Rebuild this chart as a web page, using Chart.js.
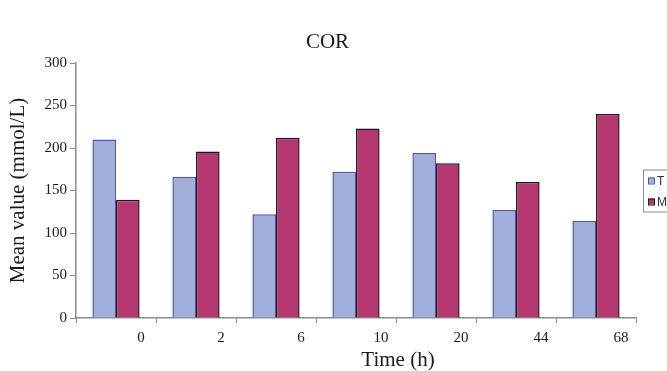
<!DOCTYPE html>
<html>
<head>
<meta charset="utf-8">
<script src="https://cdn.jsdelivr.net/npm/chart.js@4/dist/chart.umd.min.js"></script>
<style>
  html, body { margin: 0; padding: 0; background: #ffffff; overflow: hidden; }
  #wrap { width: 667px; height: 371px; position: relative; }
  #cor { display: block; }
</style>
</head>
<body>
<div id="wrap"><canvas id="cor" width="667" height="371"></canvas></div>
<script>
// Sampling times (h)
const timePoints = ['0', '2', '6', '10', '20', '44', '68'];
// Mean COR values (mmol/L) per group
const groupT = [210, 166, 122, 172, 194, 127, 114];
const groupM = [139, 196, 212, 223, 182, 160, 240];
const yTicks = [0, 50, 100, 150, 200, 250, 300];

const SERIF = '"Liberation Serif", "Times New Roman", serif';

// Titles and the boxed legend at the right edge
const decorations = {
  id: 'decorations',
  afterDraw(chart) {
    const { ctx, chartArea } = chart;
    ctx.save();
    ctx.fillStyle = '#1a1a1a';
    ctx.textAlign = 'center';
    ctx.textBaseline = 'middle';
    ctx.font = '21px ' + SERIF;
    ctx.fillText('COR', chart.width / 2 - 6, 42);
    ctx.fillText('Time (h)', (chartArea.left + chartArea.right) / 2 + 42, 360);

    // legend
    const bx = chartArea.right + 7;
    const by = (chartArea.top + chartArea.bottom) / 2 - 21;
    ctx.strokeStyle = '#8a8a8a';
    ctx.lineWidth = 1;
    ctx.strokeRect(bx + 0.5, by + 0.5, 80, 42);
    ctx.font = '12px "Liberation Sans", Arial, sans-serif';
    ctx.textAlign = 'left';
    chart.data.datasets.forEach((ds, i) => {
      const y = by + 11 + i * 21;
      ctx.fillStyle = ds.backgroundColor;
      ctx.fillRect(bx + 5, y - 3, 6, 6);
      ctx.strokeStyle = ds.borderColor;
      ctx.strokeRect(bx + 5.5, y - 2.5, 6, 6);
      ctx.fillStyle = '#333';
      ctx.fillText(ds.label, bx + 14, y + 1);
    });
    ctx.restore();
  }
};

new Chart(document.getElementById('cor'), {
  type: 'bar',
  data: {
    labels: timePoints,
    datasets: [
      {
        label: 'T',
        data: groupT,
        backgroundColor: '#a2afdb',
        borderColor: '#4b5aa6',
        borderWidth: 1.5,
        categoryPercentage: 0.59,
        barPercentage: 1.0
      },
      {
        label: 'M',
        data: groupM,
        backgroundColor: '#b4386f',
        borderColor: '#231518',
        borderWidth: 1.5,
        categoryPercentage: 0.59,
        barPercentage: 1.0
      }
    ]
  },
  options: {
    responsive: false,
    maintainAspectRatio: false,
    animation: false,
    devicePixelRatio: 1,
    layout: { padding: { left: 0, right: 31, top: 63, bottom: 0 } },
    plugins: {
      legend: { display: false },
      title: { display: false },
      tooltip: { enabled: false }
    },
    scales: {
      x: {
        afterFit(scale) { scale.height = 53; },
        border: { display: true, color: '#8c8c8c', width: 1.5 },
        grid: {
          offset: true,
          drawOnChartArea: false,
          drawTicks: true,
          tickLength: 5,
          color: '#8c8c8c'
        },
        ticks: {
          labelOffset: 25,
          padding: 6,
          color: '#1a1a1a',
          font: { family: SERIF, size: 15 },
          maxRotation: 0
        }
      },
      y: {
        min: 0,
        max: 300,
        afterFit(scale) { scale.width = 76; },
        afterBuildTicks(scale) { scale.ticks = yTicks.map(v => ({ value: v })); },
        border: { display: true, color: '#8c8c8c', width: 1.5 },
        grid: {
          drawOnChartArea: false,
          drawTicks: true,
          tickLength: 6,
          color: '#8c8c8c'
        },
        ticks: {
          padding: 3,
          color: '#1a1a1a',
          font: { family: SERIF, size: 15 }
        },
        title: {
          display: true,
          text: 'Mean value (mmol/L)',
          color: '#1a1a1a',
          font: { family: SERIF, size: 21, weight: 'normal' },
          padding: { top: 6, bottom: 0 }
        }
      }
    }
  },
  plugins: [decorations]
});
</script>
</body>
</html>
